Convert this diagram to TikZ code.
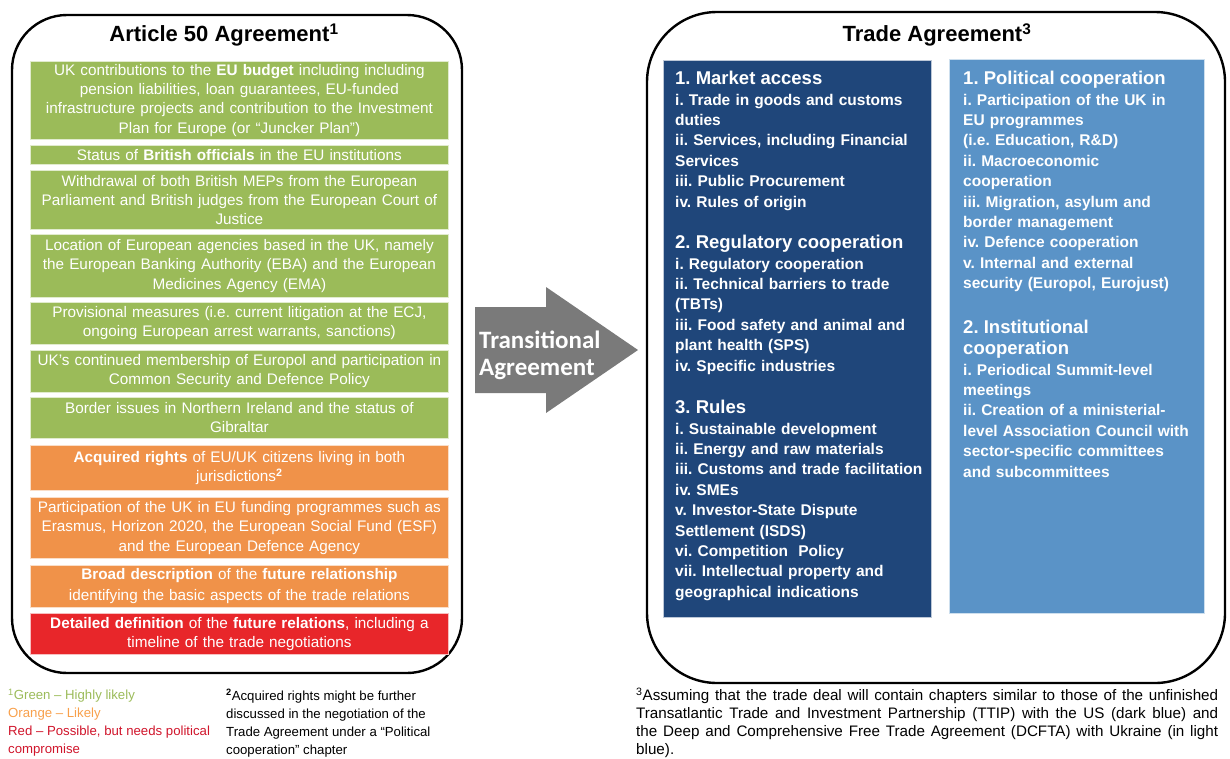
\documentclass[tikz,border=0pt]{standalone}
\usepackage{fontspec}
\setmainfont{Liberation Sans}
\newfontfamily\arrowfont{Carlito}
\usetikzlibrary{positioning}
\frenchspacing

\definecolor{agreen}{HTML}{9BBB59}
\definecolor{aorange}{HTML}{F09249}
\definecolor{ared}{HTML}{E8262A}
\definecolor{tred}{HTML}{D0152B}
\definecolor{torange}{HTML}{F8A04B}
\definecolor{ttipblue}{HTML}{1F467A}
\definecolor{dcftablue}{HTML}{5A93C7}
\definecolor{arrowgray}{HTML}{7A7A7A}

\newcommand{\colhead}[1]{{\fontsize{18.5}{21}\selectfont #1\par}}

\tikzset{
  panelframe/.style={draw=black, line width=2.4pt},
  leftbox/.style={anchor=north west, minimum width=418pt, text width=418pt,
    inner sep=0pt, align=center, text=white, fill=#1, draw=white!70!#1,
    line width=0.8pt, font=\fontsize{15.3}{19.2}\selectfont},
  bluepanel/.style={anchor=north west, inner sep=0pt, fill=#1, draw=white!70!#1,
    line width=0.8pt},
  colitems/.style={anchor=north west, inner sep=0pt, text width=262pt, align=left,
    text=white, font=\bfseries\fontsize{15.5}{20.4}\selectfont},
  paneltitle/.style={font=\bfseries\fontsize{22}{26}\selectfont},
  note/.style={anchor=north west, inner sep=0pt, align=left,
    font=\fontsize{13.2}{18}\selectfont}
}

\begin{document}
\begin{tikzpicture}[x=1pt, y=-1pt]
  \useasboundingbox (0,0) rectangle (1230,758);

  % Frames
  \draw[panelframe, rounded corners=55pt] (12,15) rectangle (462,673);
  \draw[panelframe, rounded corners=70pt] (647,12) rectangle (1225,683);

  % Titles
  \node[paneltitle] (art50) at (224,35) {Article 50 Agreement\textsuperscript{1}};
  \node[paneltitle] (trade) at (937,35) {Trade Agreement\textsuperscript{3}};

  % Article 50 items
  \node[leftbox=agreen, minimum height=78pt] (budget) at (30,61)
    {UK contributions to the \textbf{EU budget} including including\\
     pension liabilities, loan guarantees, EU-funded\\
     infrastructure projects and contribution to the Investment\\
     Plan for Europe (or “Juncker Plan”)};
  \node[leftbox=agreen, minimum height=19pt] (officials) at (30,145)
    {Status of \textbf{British officials} in the EU institutions};
  \node[leftbox=agreen, minimum height=59pt] (meps) at (30,170)
    {Withdrawal of both British MEPs from the European\\
     Parliament and British judges from the European Court of\\
     Justice};
  \node[leftbox=agreen, minimum height=63pt] (agencies) at (30,234)
    {Location of European agencies based in the UK, namely\\
     the European Banking Authority (EBA) and the European\\
     Medicines Agency (EMA)};
  \node[leftbox=agreen, minimum height=42pt] (provisional) at (30,302)
    {Provisional measures (i.e. current litigation at the ECJ,\\
     ongoing European arrest warrants, sanctions)};
  \node[leftbox=agreen, minimum height=42pt] (europol) at (30,350)
    {UK's continued membership of Europol and participation in\\
     Common Security and Defence Policy};
  \node[leftbox=agreen, minimum height=41pt] (border) at (30,397)
    {Border issues in Northern Ireland and the status of\\
     Gibraltar};
  \node[leftbox=aorange, minimum height=45pt] (rights) at (30,445)
    {\textbf{Acquired rights} of EU/UK citizens living in both\\
     jurisdictions\textsuperscript{\textbf{2}}};
  \node[leftbox=aorange, minimum height=61pt] (funding) at (30,497)
    {Participation of the UK in EU funding programmes such as\\
     Erasmus, Horizon 2020, the European Social Fund (ESF)\\
     and the European Defence Agency};
  \node[leftbox=aorange, minimum height=42pt] (broad) at (30,565)
    {\textbf{Broad description} of the \textbf{future relationship}\\[2pt]
     identifying the basic aspects of the trade relations};
  \node[leftbox=ared, minimum height=41pt] (detailed) at (30,613)
    {\textbf{Detailed definition} of the \textbf{future relations}, including a\\
     timeline of the trade negotiations};

  % Transitional arrow
  \fill[arrowgray] (475,307) -- (546,307) -- (546,287) -- (638,350)
    -- (546,413) -- (546,393) -- (475,393) -- cycle;
  \node[anchor=west, align=left, inner sep=0pt, text=white,
    font=\arrowfont\bfseries\fontsize{25}{27}\selectfont] (trans) at (479,355)
    {Transitional\\Agreement};

  % Trade agreement panels
  \node[bluepanel=ttipblue, minimum width=268pt, minimum height=557pt] (ttip) at (663,60) {};
  \node[bluepanel=dcftablue, minimum width=255pt, minimum height=554pt] (dcfta) at (949,59) {};

  \node[colitems] (market) at (675,71)
    {\colhead{1. Market access}
     i. Trade in goods and customs\\ duties\\
     ii. Services, including Financial\\ Services\\
     iii. Public Procurement\\
     iv. Rules of origin};
  \node[colitems] (regulatory) at (675,235)
    {\colhead{2. Regulatory cooperation}
     i. Regulatory cooperation\\
     ii. Technical barriers to trade\\ (TBTs)\\
     iii. Food safety and animal and\\ plant health (SPS)\\
     iv. Specific industries};
  \node[colitems] (rules) at (675,400)
    {\colhead{3. Rules}
     i. Sustainable development\\
     ii. Energy and raw materials\\
     iii. Customs and trade facilitation\\
     iv. SMEs\\
     v. Investor-State Dispute\\ Settlement (ISDS)\\
     vi. Competition\ \ Policy\\
     vii. Intellectual property and\\ geographical indications};

  \node[colitems, text width=245pt] (political) at (963,71)
    {\colhead{1. Political cooperation}
     i. Participation of the UK in\\ EU programmes\\ (i.e. Education, R\&D)\\
     ii. Macroeconomic\\ cooperation\\
     iii. Migration, asylum and\\ border management\\
     iv. Defence cooperation\\
     v. Internal and external\\ security (Europol, Eurojust)};
  \node[colitems, text width=245pt] (institutional) at (963,320)
    {\colhead{2. Institutional\\ cooperation}
     i. Periodical Summit-level\\ meetings\\
     ii. Creation of a ministerial-\\ level Association Council with\\
     sector-specific committees\\ and subcommittees};

  % Footnotes
  \node[note] (legend) at (8,689)
    {\textcolor{agreen}{\textsuperscript{1}Green – Highly likely}\\
     \textcolor{torange}{Orange – Likely}\\
     \textcolor{tred}{Red – Possible, but needs political}\\
     \textcolor{tred}{compromise}};
  \node[note] (rightsnote) at (226,689)
    {\textsuperscript{\textbf{2}}Acquired rights might be further\\
     discussed in the negotiation of the\\
     Trade Agreement under a “Political\\
     cooperation” chapter};
  \node[note, text width=582pt, align=justify, font=\fontsize{15.2}{18}\selectfont] (tradenote) at (636,688)
    {\textsuperscript{3}Assuming that the trade deal will contain chapters similar to those of the unfinished\linebreak
     Transatlantic Trade and Investment Partnership (TTIP) with the US (dark blue) and\linebreak
     the Deep and Comprehensive Free Trade Agreement (DCFTA) with Ukraine (in light\linebreak
     blue).};
\end{tikzpicture}
\end{document}
